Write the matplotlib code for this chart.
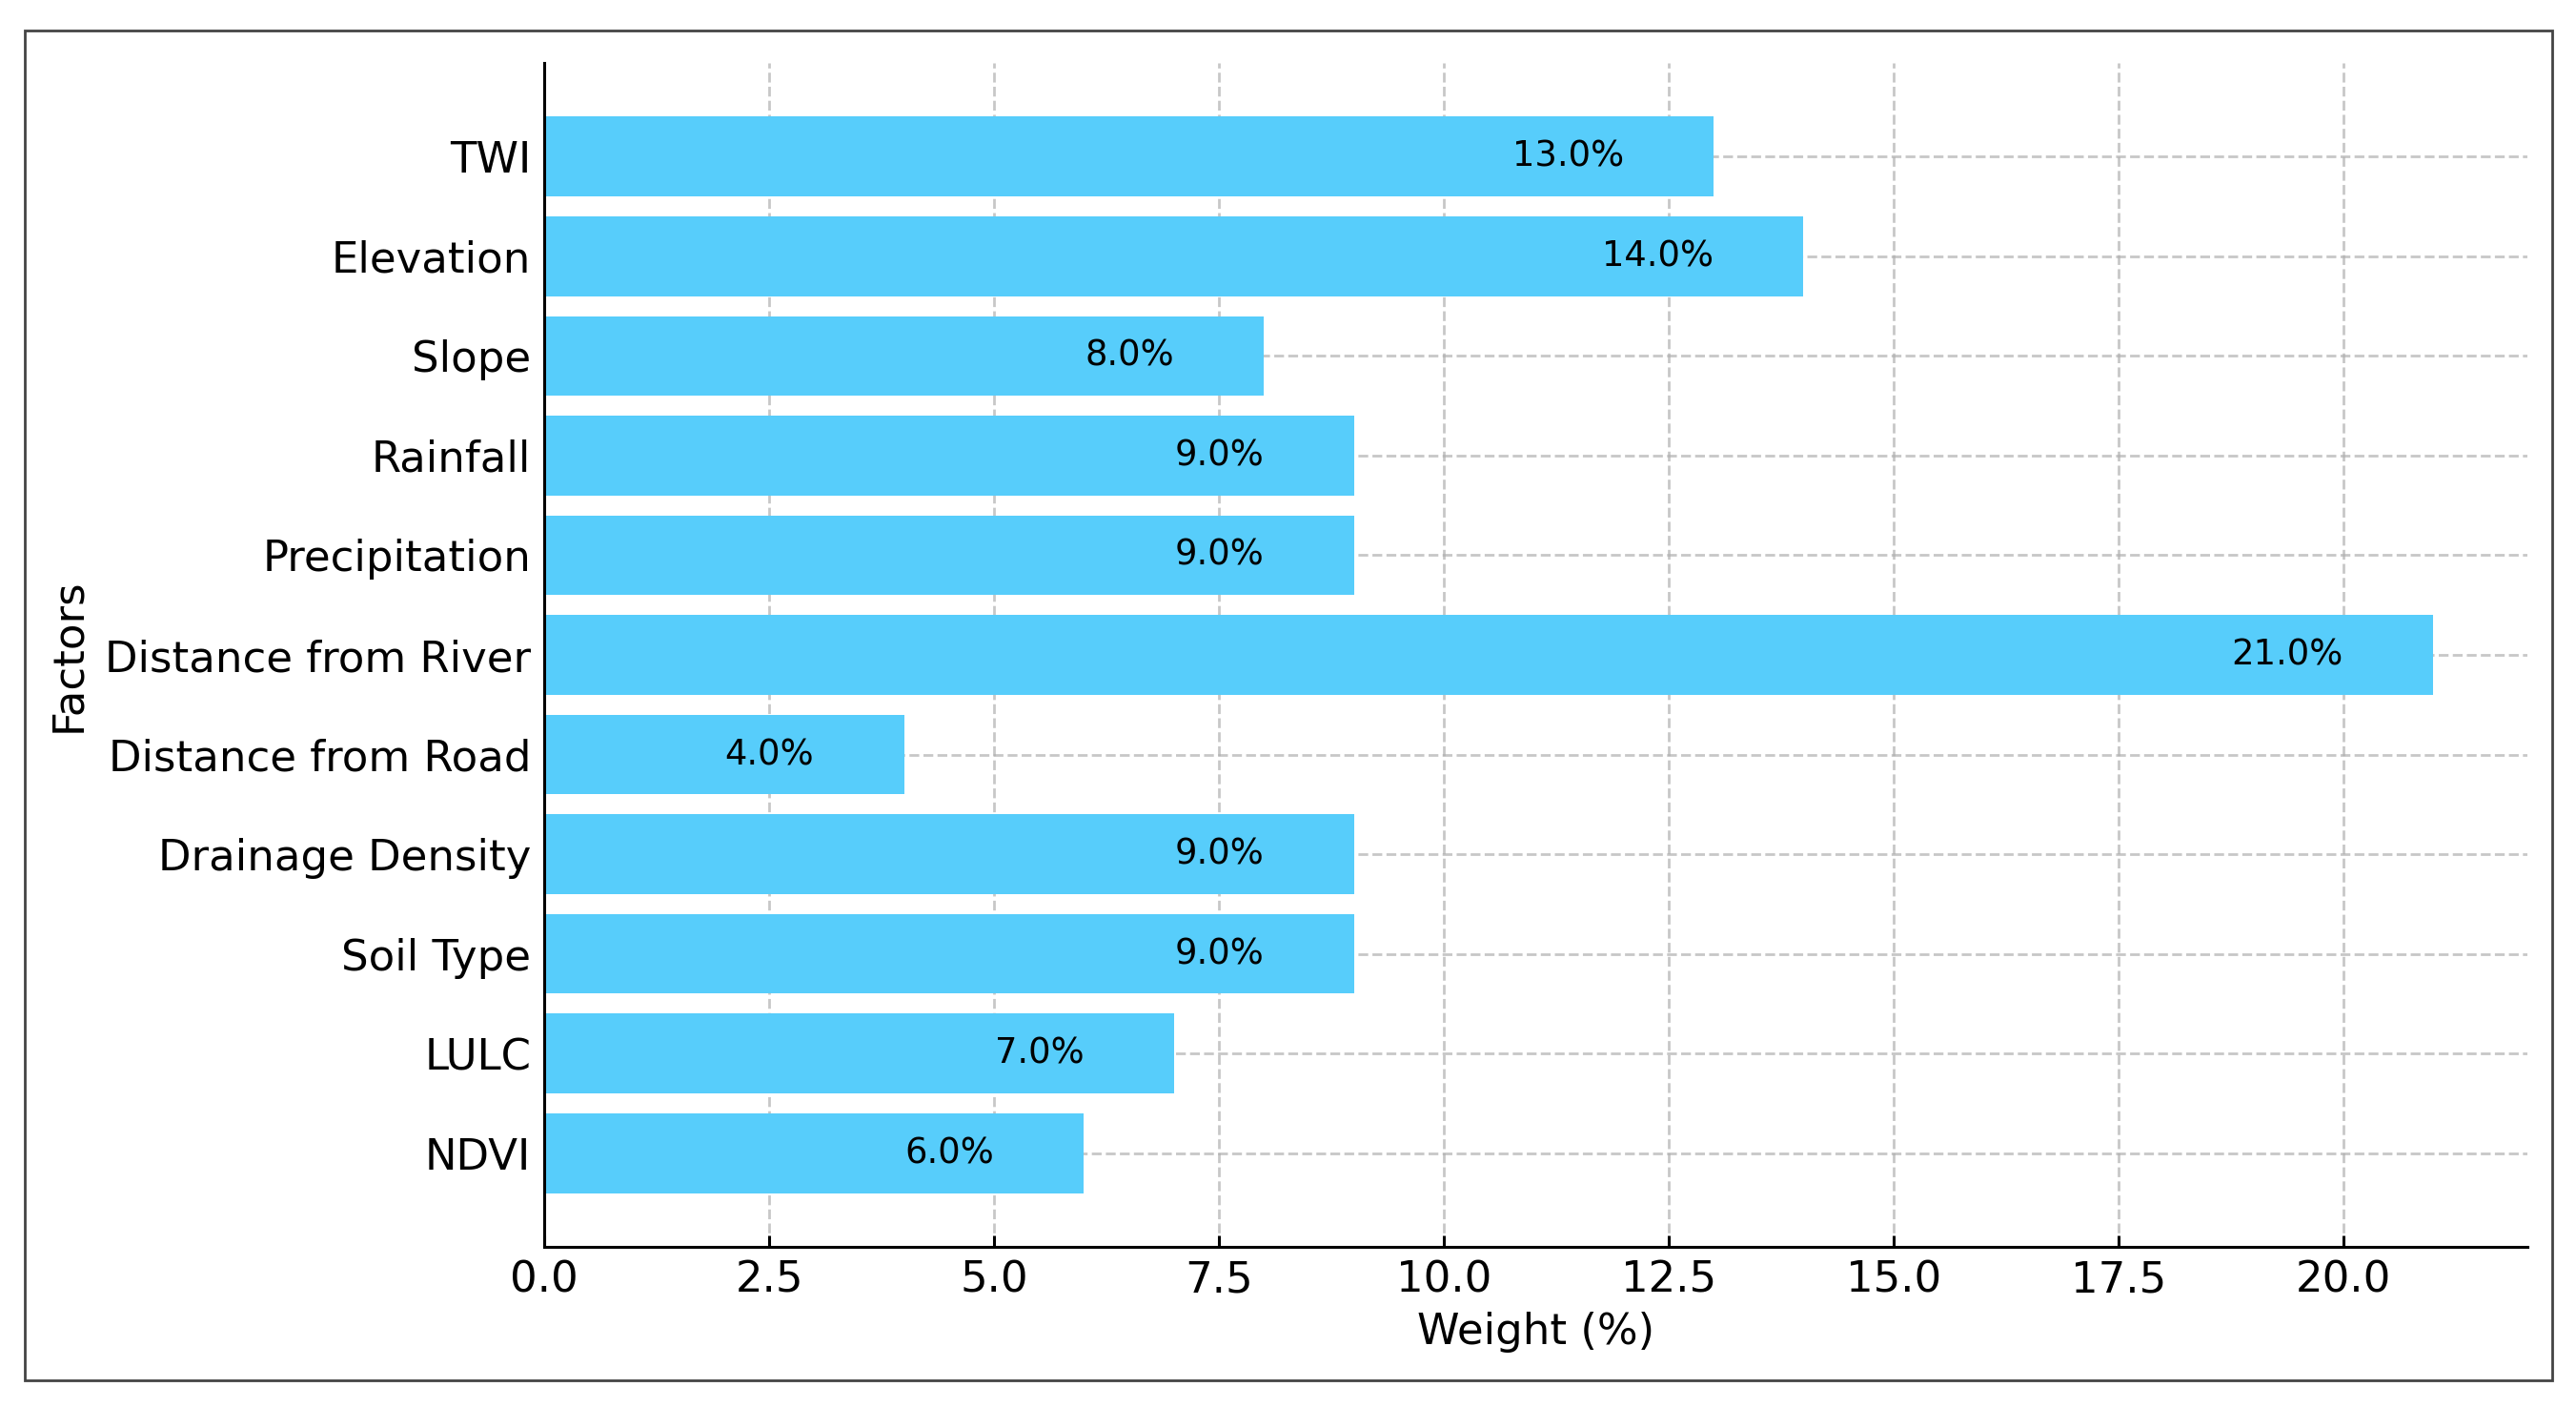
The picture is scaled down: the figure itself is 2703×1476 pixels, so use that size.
import matplotlib.pyplot as plt
from matplotlib.patches import Rectangle

factors = ["NDVI", "LULC", "Soil Type", "Drainage Density", "Distance from Road",
           "Distance from River", "Precipitation", "Rainfall", "Slope", "Elevation", "TWI"]
weights = [6.0, 7.0, 9.0, 9.0, 4.0, 21.0, 9.0, 9.0, 8.0, 14.0, 13.0]

BAR_COLOR = "#57CDFB"

fig = plt.figure(figsize=(2703 / 200, 1476 / 200), dpi=200)
ax = fig.add_axes([0.2113, 0.1138, 0.9812 - 0.2113, 0.9553 - 0.1138])

bars = ax.barh(factors, weights, height=0.8, color=BAR_COLOR, zorder=2)
for y, w in enumerate(weights):
    ax.text(w - 1, y, f"{w:.1f}%", ha="right", va="center", fontsize=13.3, color="black", zorder=3)

ax.grid(True, linestyle="--", color="#b0b0b0", alpha=0.7, linewidth=1.0, zorder=0)
ax.set_axisbelow(True)
for s in ("top", "right"):
    ax.spines[s].set_visible(False)
for s in ("left", "bottom"):
    ax.spines[s].set_linewidth(1.1)
ax.tick_params(axis="both", direction="in", length=4.5, width=1.1, labelsize=16.2, pad=5)
ax.set_xlabel("Weight (%)", fontsize=16.2, labelpad=4)
ax.set_ylabel("Factors", fontsize=16.2, labelpad=6)

# outer frame around the whole figure
fig.patches.append(Rectangle((0.0096, 0.019), 0.9908 - 0.0096, 0.978 - 0.019,
                             transform=fig.transFigure, fill=False,
                             edgecolor="#444444", linewidth=1.0))

fig.savefig("out.png", dpi=200)
